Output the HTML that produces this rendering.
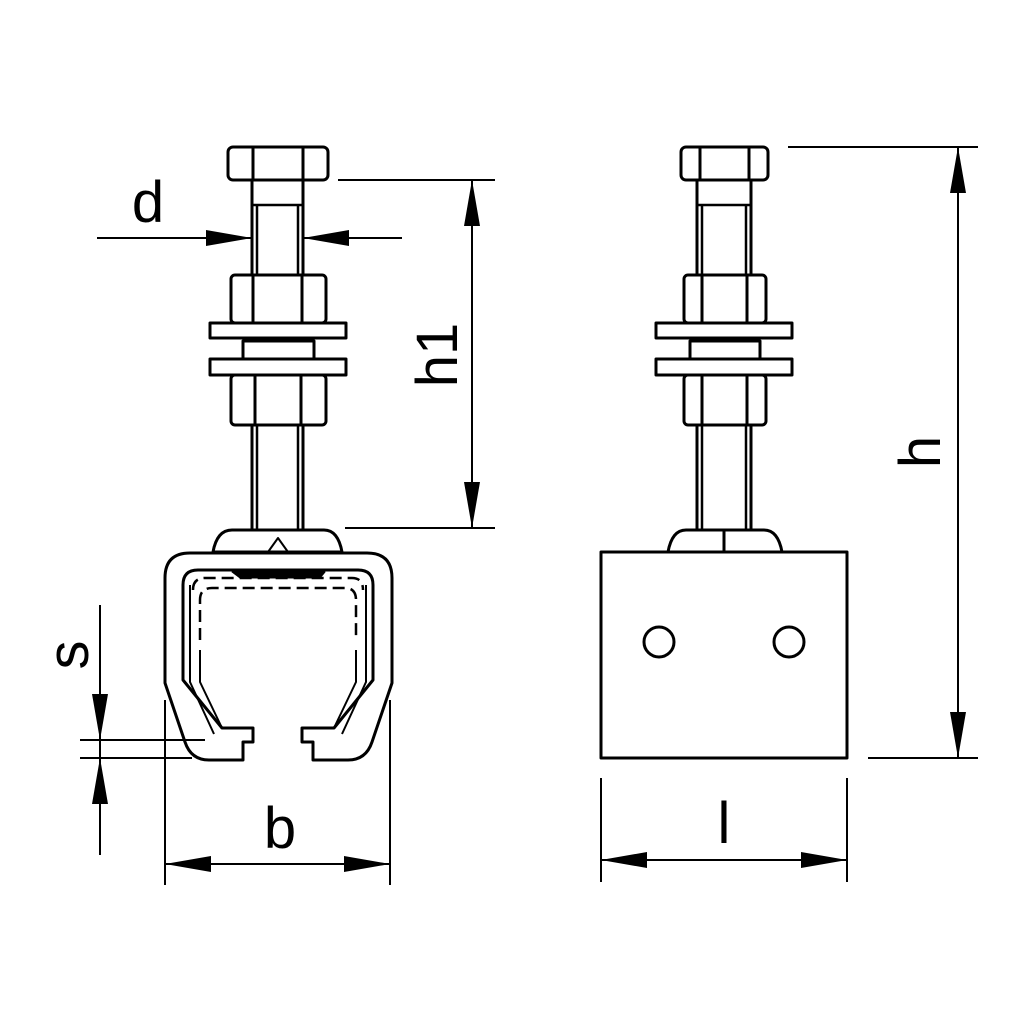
<!DOCTYPE html>
<html><head><style>html,body{margin:0;padding:0;background:#fff}svg{display:block}</style></head><body>
<svg width="1024" height="1024" viewBox="0 0 1024 1024" xmlns="http://www.w3.org/2000/svg">
<defs>
<marker id="a" markerWidth="46" markerHeight="16" refX="46" refY="8" orient="auto" markerUnits="userSpaceOnUse" viewBox="0 0 46 16"><path d="M0,0 L46,8 L0,16z" fill="#000"/></marker>
</defs>
<g fill="#fff" stroke="#000" stroke-width="3" stroke-linejoin="round">
<!-- LEFT BOLT -->
<rect x="252" y="180" width="51" height="352" stroke-width="3"/>
<line x1="257" y1="205" x2="257" y2="530" stroke-width="2.5"/><line x1="298" y1="205" x2="298" y2="530" stroke-width="2.5"/>
<line x1="252" y1="205" x2="303" y2="205" stroke-width="2.5"/>
<rect x="228" y="147" width="100" height="33" rx="5"/>
<line x1="253" y1="148" x2="253" y2="180"/><line x1="303" y1="148" x2="303" y2="180"/>
<rect x="231" y="275" width="95" height="48" rx="4"/>
<line x1="253" y1="276" x2="253" y2="322"/><line x1="302" y1="276" x2="302" y2="322"/>
<rect x="243" y="341" width="71" height="19"/>
<rect x="210" y="323" width="136" height="15"/>
<rect x="210" y="359" width="136" height="16"/>
<rect x="231" y="375" width="95" height="50" rx="4"/>
<line x1="255" y1="376" x2="255" y2="424"/><line x1="301" y1="376" x2="301" y2="424"/>
<path d="M213,552 Q217,530 232,530 L324,530 Q338,530 342,552 Z"/>
<path d="M190,553 L367,553 Q392,553 392,578 L392,683 L372,742 Q366,760 348,760 L313,760 L313,742 L302,742 L302,728 L334,728 L373,680 L373,585 Q373,570 358,570 L198,570 Q183,570 183,585 L183,680 L222,728 L253,728 L253,742 L243,742 L243,760 L209,760 Q191,760 185,742 L165,683 L165,578 Q165,553 190,553 Z"/>
<path d="M190,585 L190,682 L214,734 M366,585 L366,682 L342,734" fill="none" stroke-width="2"/>
<path d="M200,650 L200,682 L222,728 M356,650 L356,682 L334,728" fill="none" stroke-width="2"/>
<path d="M200,640 L200,600 Q200,588 212,588 L345,588 Q356,588 356,600 L356,640" fill="none" stroke-dasharray="12,6" stroke-width="2.5"/>
<path d="M193,590 Q193,578 205,578 L352,578 Q363,578 363,590" fill="none" stroke-dasharray="12,6" stroke-width="2.5"/>
<path d="M232,572 L325,572 L320,578 L240,578 Z" fill="#000" stroke-width="1"/>
<path d="M268,552 L278,538 L288,552" fill="none" stroke-width="2"/>
<!-- RIGHT VIEW -->
<rect x="697" y="180" width="54" height="352" stroke-width="3"/>
<line x1="702" y1="205" x2="702" y2="530" stroke-width="2.5"/><line x1="746" y1="205" x2="746" y2="530" stroke-width="2.5"/>
<line x1="697" y1="205" x2="751" y2="205" stroke-width="2.5"/>
<rect x="681" y="147" width="87" height="33" rx="5"/>
<line x1="700" y1="148" x2="700" y2="180"/><line x1="749" y1="148" x2="749" y2="180"/>
<rect x="684" y="275" width="82" height="48" rx="4"/>
<line x1="702" y1="276" x2="702" y2="322"/><line x1="747" y1="276" x2="747" y2="322"/>
<rect x="690" y="341" width="70" height="19"/>
<rect x="656" y="323" width="136" height="15"/>
<rect x="656" y="359" width="136" height="16"/>
<rect x="684" y="375" width="82" height="50" rx="4"/>
<line x1="702" y1="376" x2="702" y2="424"/><line x1="747" y1="376" x2="747" y2="424"/>
<path d="M668,552 Q672,530 686,530 L764,530 Q778,530 782,552 Z"/>
<line x1="724" y1="530" x2="724" y2="552"/>
<rect x="601" y="552" width="246" height="206"/>
<circle cx="659" cy="642" r="15"/><circle cx="789" cy="642" r="15"/>
</g>
<g stroke="#000" stroke-width="2" fill="none">
<line x1="97" y1="238" x2="252" y2="238" marker-end="url(#a)"/>
<line x1="402" y1="238" x2="303" y2="238" marker-end="url(#a)"/>
<line x1="338" y1="180" x2="495" y2="180"/><line x1="345" y1="528" x2="495" y2="528"/>
<line x1="472" y1="354" x2="472" y2="180" marker-end="url(#a)"/>
<line x1="472" y1="354" x2="472" y2="528" marker-end="url(#a)"/>
<line x1="788" y1="147" x2="978" y2="147"/><line x1="868" y1="758" x2="978" y2="758"/>
<line x1="958" y1="452" x2="958" y2="147" marker-end="url(#a)"/>
<line x1="958" y1="452" x2="958" y2="758" marker-end="url(#a)"/>
<line x1="80" y1="740" x2="205" y2="740"/><line x1="80" y1="758" x2="192" y2="758"/>
<line x1="100" y1="605" x2="100" y2="740" marker-end="url(#a)"/>
<line x1="100" y1="855" x2="100" y2="758" marker-end="url(#a)"/>
<line x1="100" y1="740" x2="100" y2="758"/>
<line x1="165" y1="700" x2="165" y2="885"/><line x1="390" y1="700" x2="390" y2="885"/>
<line x1="278" y1="864" x2="165" y2="864" marker-end="url(#a)"/>
<line x1="278" y1="864" x2="390" y2="864" marker-end="url(#a)"/>
<line x1="601" y1="778" x2="601" y2="882"/><line x1="847" y1="778" x2="847" y2="882"/>
<line x1="724" y1="860" x2="601" y2="860" marker-end="url(#a)"/>
<line x1="724" y1="860" x2="847" y2="860" marker-end="url(#a)"/>
</g>
<g font-family="Liberation Sans, sans-serif" font-size="58" fill="#000">
<text x="148" y="222" text-anchor="middle">d</text>
<text x="280" y="848" text-anchor="middle">b</text>
<text x="724" y="843" text-anchor="middle">l</text>
<text transform="translate(457,355) rotate(-90)" text-anchor="middle">h1</text>
<text transform="translate(940,452) rotate(-90)" text-anchor="middle">h</text>
<text transform="translate(88,655) rotate(-90)" text-anchor="middle">s</text>
</g>
</svg>
</body></html>
